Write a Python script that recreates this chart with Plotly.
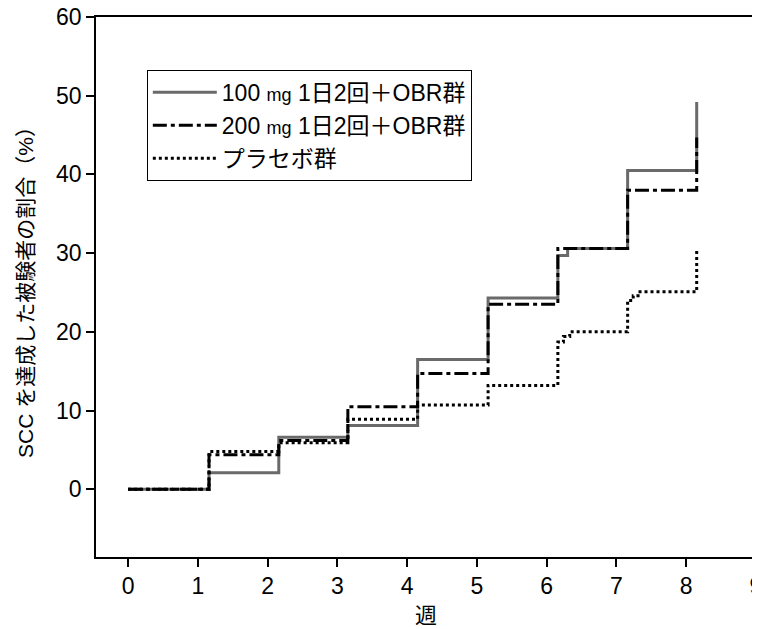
import plotly.graph_objects as go

# Step-change times (weeks) and cumulative % achieving SCC
weeks_100 = [0, 1.16, 2.16, 3.15, 4.15, 5.16, 6.16, 6.30, 7.16, 8.15]
pct_100 = [0, 2.1, 6.6, 8.1, 16.5, 24.3, 29.7, 30.6, 40.5, 49.2]

weeks_200 = [0, 1.16, 2.16, 3.15, 4.15, 5.16, 6.16, 7.16, 8.15]
pct_200 = [0, 4.4, 6.2, 10.5, 14.7, 23.5, 30.6, 38.0, 44.7]

weeks_pbo = [0, 1.16, 2.16, 3.15, 4.15, 5.16, 6.16, 6.24, 6.33, 7.16, 7.24, 7.31, 8.15]
pct_pbo = [0, 4.8, 5.9, 8.9, 10.7, 13.2, 18.7, 19.4, 20.0, 24.0, 24.6, 25.1, 30.5]

names = [
    '100 <span style="font-size:18px">mg</span> 1日2回＋OBR群',
    '200 <span style="font-size:18px">mg</span> 1日2回＋OBR群',
    'プラセボ群',
]

x_ticks = list(range(0, 10))
y_ticks = list(range(0, 70, 10))

FONT = "Liberation Sans, Arial, Noto Sans CJK JP, sans-serif"

fig = go.Figure()
fig.add_trace(go.Scatter(x=weeks_100, y=pct_100, mode="lines", name=names[0],
                         line=dict(shape="hv", color="#6a6a6a", width=3),
                         legendgroup="a"))
fig.add_trace(go.Scatter(x=weeks_200, y=pct_200, mode="lines", name=names[1],
                         line=dict(shape="hv", color="black", width=3, dash="14px,4px,4px,4px"),
                         legendgroup="b"))
fig.add_trace(go.Scatter(x=weeks_pbo, y=pct_pbo, mode="lines", name=names[2],
                         line=dict(shape="hv", color="black", width=3, dash="3px,3px"),
                         legendgroup="c"))

fig.update_layout(
    width=760, height=629,
    margin=dict(l=88, r=12, t=9, b=80),
    paper_bgcolor="white", plot_bgcolor="white",
    font=dict(family=FONT, size=22, color="black"),
    showlegend=True,
    legend=dict(x=0.077, y=0.902, xanchor="left", yanchor="top",
                bordercolor="black", borderwidth=1, bgcolor="white",
                font=dict(size=23, family=FONT), tracegroupgap=0,
                itemwidth=64),
    xaxis=dict(range=[-0.46, 9.0], tickvals=x_ticks, ticks="outside", ticklen=8,
               tickwidth=1.5, tickcolor="black", showline=True, linecolor="black",
               linewidth=1.5, mirror=True, showgrid=False, zeroline=False,
               automargin=False, ticklabeloverflow="allow",
               title=dict(text="週", font=dict(size=22), standoff=9),
               tickfont=dict(size=23)),
    yaxis=dict(range=[-8.6, 60], tickvals=y_ticks, ticks="outside", ticklen=8,
               tickwidth=1.5, tickcolor="black", showline=True, linecolor="black",
               linewidth=1.5, mirror=True, showgrid=False, zeroline=False,
               automargin=False, ticklabeloverflow="allow",
               title=dict(text="SCC を達成した被験者の割合（%）", font=dict(size=21), standoff=17),
               tickfont=dict(size=23)),
)

fig.write_html("out.html")
